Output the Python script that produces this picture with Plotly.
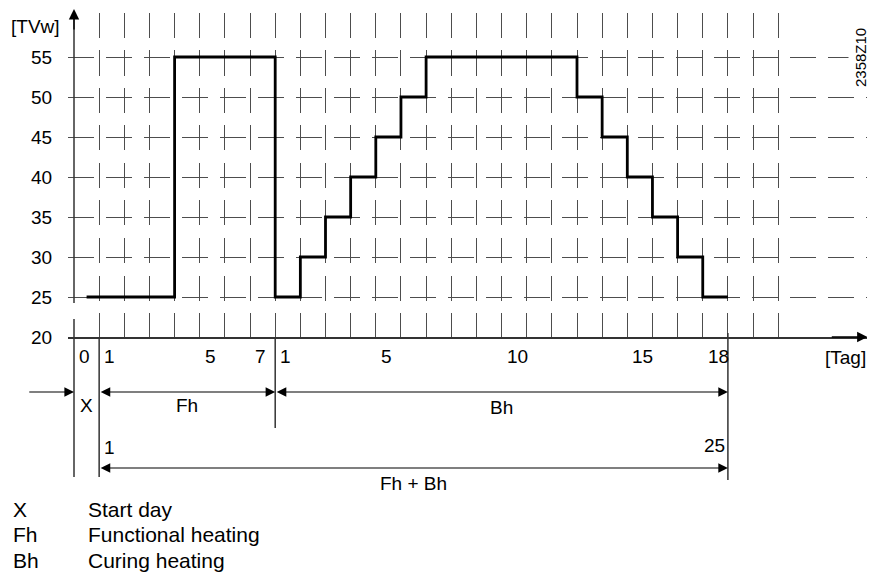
"""
python plot.py

Functional heating / curing heating profile (flow temperature per day)
"""
import plotly.graph_objects as go

# data
fh_days = [1, 2, 3, 4, 5, 6, 7]
fh_temp = [25, 25, 25, 55, 55, 55, 55]
bh_days = list(range(1, 19))
bh_temp = [25, 30, 35, 40, 45, 50, 55, 55, 55, 55, 55, 55, 50, 45, 40, 35, 30, 25]
y_ticks = [20, 25, 30, 35, 40, 45, 50, 55]
fh_labels = ['0', '1', '5', '7']
fh_label_days = [0, 1, 5, 7]
bh_labels = ['1', '5', '10', '15', '18']
bh_label_days = [1, 5, 10, 15, 18]
legend_keys = ['X', 'Fh', 'Bh']
legend_text = ['Start day', 'Functional heating', 'Curing heating']

FONT = 'Liberation Sans, Arial, sans-serif'
GRID = '#4d4d4d'
AXIS = '#333333'

# the page body adds 8px margin, so the figure is a bit smaller than the window
OFF = 8
W, H = 875 - OFF, 574 - OFF
# plot area in window pixels: x 68..868, y 13..337
L, R, T, B = 68 - OFF, 7, 13 - OFF, 574 - 337
PX_PER_DAY = 25.15
X0 = -(74 - 68) / PX_PER_DAY
X1 = X0 + (868 - 68) / PX_PER_DAY


def py(ypx):
    """window pixel row -> paper y"""
    return (337 - ypx) / (337 - 13)


def pxp(xpx):
    """window pixel column -> paper x"""
    return (xpx - 68) / (868 - 68)


def main() -> None:
    n_fh = len(fh_days)
    end_day = n_fh + len(bh_days) + 1

    step_x = [0.5] + fh_days + [n_fh + d for d in bh_days] + [end_day]
    step_y = [fh_temp[0]] + fh_temp + bh_temp + [bh_temp[-1]]

    fig = go.Figure()
    fig.add_trace(go.Scatter(x=step_x, y=step_y, mode='lines', line_shape='hv',
                             line=dict(color='black', width=2.8), hoverinfo='skip'))

    annotations = []
    shapes = []
    lbl = dict(family=FONT, size=19, color='black')
    txt_base = dict(yref='paper', showarrow=False, yanchor='middle', font=lbl)

    # x labels
    for txt, d in zip(fh_labels, fh_label_days):
        annotations.append(dict(txt_base, x=d, y=py(356), xref='x', text=txt,
                                xanchor='left', xshift=3))
    for txt, d in zip(bh_labels, bh_label_days):
        annotations.append(dict(txt_base, x=n_fh + d, y=py(356), xref='x', text=txt,
                                xanchor='left', xshift=3))
    annotations.append(dict(txt_base, x=1, y=py(357), xref='paper', text='[Tag]', xanchor='right'))
    annotations.append(dict(txt_base, x=pxp(62), y=py(27), xref='paper', text='[TVw]',
                            xanchor='right'))
    annotations.append(dict(txt_base, x=pxp(861), y=py(58), xref='paper', text='2358Z10',
                            xanchor='center', textangle=-90, bgcolor='white', borderpad=3,
                            font=dict(family=FONT, size=15, color='black')))

    # axis arrows
    annotations.append(dict(x=X1 - 0.02, y=0, xref='x', yref='paper', ax=X1 - 1.5, ay=0,
                            axref='x', ayref='pixel', text='', showarrow=True, arrowhead=2,
                            arrowsize=1.6, arrowwidth=1.3, arrowcolor='black'))
    annotations.append(dict(x=0, y=py(9), xref='x', yref='paper', ax=0, ay=22,
                            axref='x', ayref='pixel', text='', showarrow=True, arrowhead=2,
                            arrowsize=1.6, arrowwidth=1.3, arrowcolor='black'))

    # dimension arrows
    dim = dict(xref='x', yref='paper', axref='x', ayref='pixel', ay=0, text='', showarrow=True,
               arrowhead=2, startarrowhead=2, arrowsize=1.6, startarrowsize=1.6,
               arrowwidth=1.2, arrowcolor='black')
    annotations.append(dict(dim, x=0, ax=X0 - 1.6, y=py(392)))
    annotations.append(dict(dim, x=n_fh + 1, ax=1, y=py(392), arrowside='end+start'))
    annotations.append(dict(dim, x=end_day, ax=n_fh + 1, y=py(392), arrowside='end+start'))
    annotations.append(dict(dim, x=end_day, ax=1, y=py(468), arrowside='end+start'))

    for txt, x, ypx in [('X', 0.5, 405), ('Fh', (1 + n_fh + 1) / 2, 405),
                        ('Bh', (n_fh + 1 + end_day) / 2, 407), ('Fh + Bh', (1 + end_day) / 2, 483)]:
        annotations.append(dict(txt_base, x=x, y=py(ypx), xref='x', text=txt, xanchor='center'))
    annotations.append(dict(txt_base, x=1, y=py(447), xref='x', text='1', xanchor='left', xshift=3))
    annotations.append(dict(txt_base, x=end_day, y=py(445), xref='x', text=str(end_day - 1),
                            xanchor='right', xshift=-1))

    # legend below
    leg_font = dict(family=FONT, size=21, color='black')
    for i, (k, t) in enumerate(zip(legend_keys, legend_text)):
        yy = py(509 + 25.5 * i)
        annotations.append(dict(txt_base, x=pxp(11), y=yy, xref='paper', text=k,
                                xanchor='left', font=leg_font))
        annotations.append(dict(txt_base, x=pxp(86), y=yy, xref='paper', text=t,
                                xanchor='left', font=leg_font))

    # y axis line (with the small break) and extension lines
    vline = dict(type='line', xref='x', yref='paper', line=dict(color=AXIS, width=1.5))
    shapes.append(dict(vline, x0=0, x1=0, y0=py(303), y1=1))
    shapes.append(dict(vline, x0=0, x1=0, y0=py(477), y1=py(319)))
    shapes.append(dict(vline, x0=1, x1=1, y0=py(477), y1=0))
    shapes.append(dict(vline, x0=n_fh + 1, x1=n_fh + 1, y0=py(428), y1=0))
    shapes.append(dict(vline, x0=end_day, x1=end_day, y0=py(480), y1=py(333)))

    fig.update_layout(
        width=W, height=H,
        margin=dict(l=L, r=R, t=T, b=B),
        paper_bgcolor='white', plot_bgcolor='white',
        showlegend=False, hovermode=False,
        annotations=annotations, shapes=shapes,
        xaxis=dict(range=[X0, X1], tickvals=list(range(1, 29)), showticklabels=False,
                   showgrid=True, gridcolor=GRID, gridwidth=1, griddash='25px,12.5px',
                   zeroline=False, showline=True, linecolor=AXIS, linewidth=1.5, ticks=''),
        yaxis=dict(range=[20, 60.5], tickvals=y_ticks, showgrid=True, gridcolor=GRID, gridwidth=1,
                   griddash='26px,12px', zeroline=False, showline=False,
                   ticks='outside', ticklen=11, tickcolor='rgba(0,0,0,0)',
                   tickfont=dict(family=FONT, size=19, color='black')),
    )

    fig.write_html("out.html")


if __name__ == '__main__':
    main()
